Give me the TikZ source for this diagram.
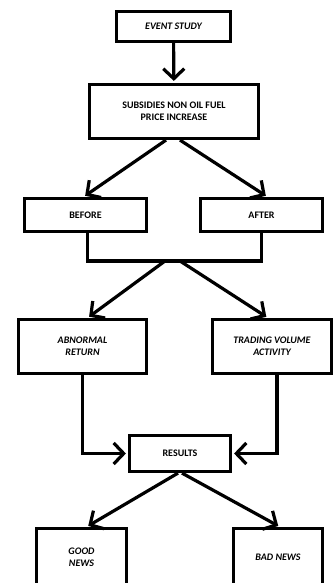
\documentclass[tikz,border=0pt]{standalone}
\usepackage{fontspec}
\setmainfont{Carlito}
\usetikzlibrary{arrows.meta, calc}

\begin{document}
\begin{tikzpicture}[x=1pt, y=-1pt, line width=3.2pt, >={Straight Barb[length=10pt, width=21pt]}, flow box/.style={draw, rectangle, align=center, inner sep=2pt, font=\fontsize{10}{12.5}\selectfont\bfseries}, flow/.style={->, shorten >=2pt}]

			\useasboundingbox (0,0) rectangle (334,583);

			\node[flow box, minimum width=114pt, minimum height=30pt, font=\fontsize{10}{12.5}\selectfont\bfseries\itshape] (event) at (173.5,26.5) {EVENT STUDY};
			\node[flow box, minimum width=169pt, minimum height=54pt] (subsidy) at (174,111.5) {SUBSIDIES NON OIL FUEL\\PRICE INCREASE};

			\node[flow box, minimum width=122pt, minimum height=33pt] (before) at (85.5,215) {BEFORE};
			\node[flow box, minimum width=122pt, minimum height=33pt] (after) at (261.5,215) {AFTER};

			\node[flow box, minimum width=128pt, minimum height=54pt, font=\fontsize{10}{12.5}\selectfont\bfseries\itshape] (abnormal) at (82.5,346.5) {ABNORMAL\\RETURN};
			\node[flow box, minimum width=119pt, minimum height=54pt, font=\fontsize{10}{12.5}\selectfont\bfseries\itshape] (volume) at (272,346.5) {TRADING VOLUME\\ACTIVITY};

			\node[flow box, minimum width=101pt, minimum height=36pt] (results) at (180,453.5) {RESULTS};

			\node[flow box, minimum width=90pt, minimum height=57pt, font=\fontsize{10}{12.5}\selectfont\bfseries\itshape] (good) at (81.5,557) {GOOD\\NEWS};
			\node[flow box, minimum width=89pt, minimum height=57pt, font=\fontsize{10}{12.5}\selectfont\bfseries\itshape] (bad) at (278,557) {BAD NEWS};

			% study into the policy event
			\draw[flow] (event) -- (subsidy);
			\draw[flow] ($(subsidy.south)+(-8,0)$) -- ($(before.north)+(-2,0)$);
			\draw[flow] ($(subsidy.south)+(6,0)$) -- ($(after.north)+(6,0)$);

			% before / after joined, then split
			\coordinate (join) at (174,261);
			\draw ($(before.south)+(2,0)$) |- (join) -| ($(after.south)+(0,0)$);
			\draw[flow] ($(join)+(-9,0)$) -- ($(abnormal.north)+(5,0)$);
			\draw[flow] ($(join)+(6,0)$) -- ($(volume.north)+(-4,0)$);

			% measures into results
			\draw[flow] (abnormal.south) |- (results.west);
			\draw[flow] ($(volume.south)+(5,0)$) |- (results.east);

			% results split into news
			\draw[flow] ($(results.south)+(-2,0)$) -- ($(good.north)+(5,0)$);
			\draw[flow] ($(results.south)+(2,0)$) -- ($(bad.north)+(2,0)$);

		\end{tikzpicture}
\end{document}
